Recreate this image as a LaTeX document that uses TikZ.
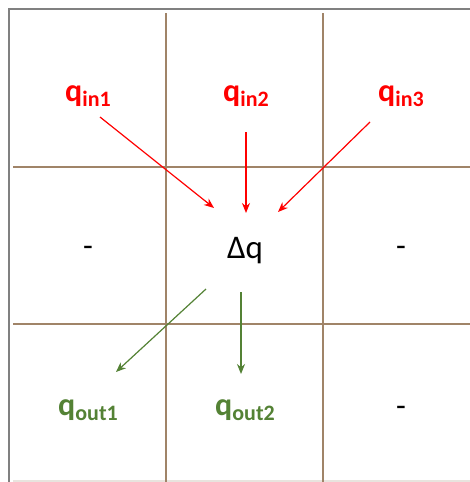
\documentclass[tikz,border=0pt]{standalone}
\usepackage{fontspec}
\setmainfont{Carlito}
\usetikzlibrary{arrows.meta}
\definecolor{gridc}{RGB}{160,132,104}
\definecolor{framec}{RGB}{128,128,128}
\definecolor{inred}{RGB}{255,0,0}
\definecolor{outgreen}{RGB}{84,130,53}
\definecolor{bottomc}{RGB}{232,228,222}
\tikzset{
  gridline/.style={draw=gridc, line width=2pt},
  frameline/.style={draw=framec, line width=1.6pt},
  inarrow/.style={draw=inred, line width=1.2pt, -{Stealth[length=10pt,width=8pt]}},
  outarrow/.style={draw=outgreen, line width=1.2pt, -{Stealth[length=10pt,width=8pt]}},
  inlabel/.style={text=inred, font=\bfseries, inner sep=0pt},
  outlabel/.style={text=outgreen, font=\bfseries, inner sep=0pt},
  dashlabel/.style={font=\fontsize{32}{32}\selectfont, inner sep=0pt},
}
\newcommand{\qlab}[1]{{\fontsize{32}{32}\selectfont q}\raisebox{-5pt}{\fontsize{22}{22}\selectfont #1}}
\begin{document}
\begin{tikzpicture}[x=1pt,y=-1pt]
\useasboundingbox (0,0) rectangle (470,482);
\fill[white] (0,0) rectangle (470,482);
% frame
\draw[frameline] (9,482) -- (9,9) -- (470,9);
\draw[draw=bottomc, line width=1.2pt] (13,481) -- (470,481);
% grid
\draw[gridline] (166,13) -- (166,482);
\draw[gridline] (323,13) -- (323,482);
\draw[gridline] (13,167) -- (470,167);
\draw[gridline] (13,324) -- (470,324);
% labels
\node[inlabel] (qin1) at (88,96) {\qlab{in1}};
\node[inlabel] (qin2) at (246,96) {\qlab{in2}};
\node[inlabel] (qin3) at (401,96) {\qlab{in3}};
\node[font=\fontsize{33}{33}\selectfont, inner sep=0pt] (dq) at (245,251) {Δq};
\node[dashlabel] (d1) at (88,251) {-};
\node[dashlabel] (d2) at (401,251) {-};
\node[dashlabel] (d3) at (401,411) {-};
\node[outlabel] (qout1) at (88,410) {\qlab{out1}};
\node[outlabel] (qout2) at (245,410) {\qlab{out2}};
% connectors
\coordinate (a1s) at (100,117); \coordinate (a1e) at (214,208);
\coordinate (a2s) at (246,132); \coordinate (a2e) at (246,213);
\coordinate (a3s) at (370,122); \coordinate (a3e) at (278,212);
\coordinate (b1s) at (206,289); \coordinate (b1e) at (116,372);
\coordinate (b2s) at (241,292); \coordinate (b2e) at (241,374);
\draw[inarrow] (a1s) -- (a1e);
\draw[inarrow] (a2s) -- (a2e);
\draw[inarrow] (a3s) -- (a3e);
\draw[outarrow] (b1s) -- (b1e);
\draw[outarrow] (b2s) -- (b2e);
\end{tikzpicture}
\end{document}
